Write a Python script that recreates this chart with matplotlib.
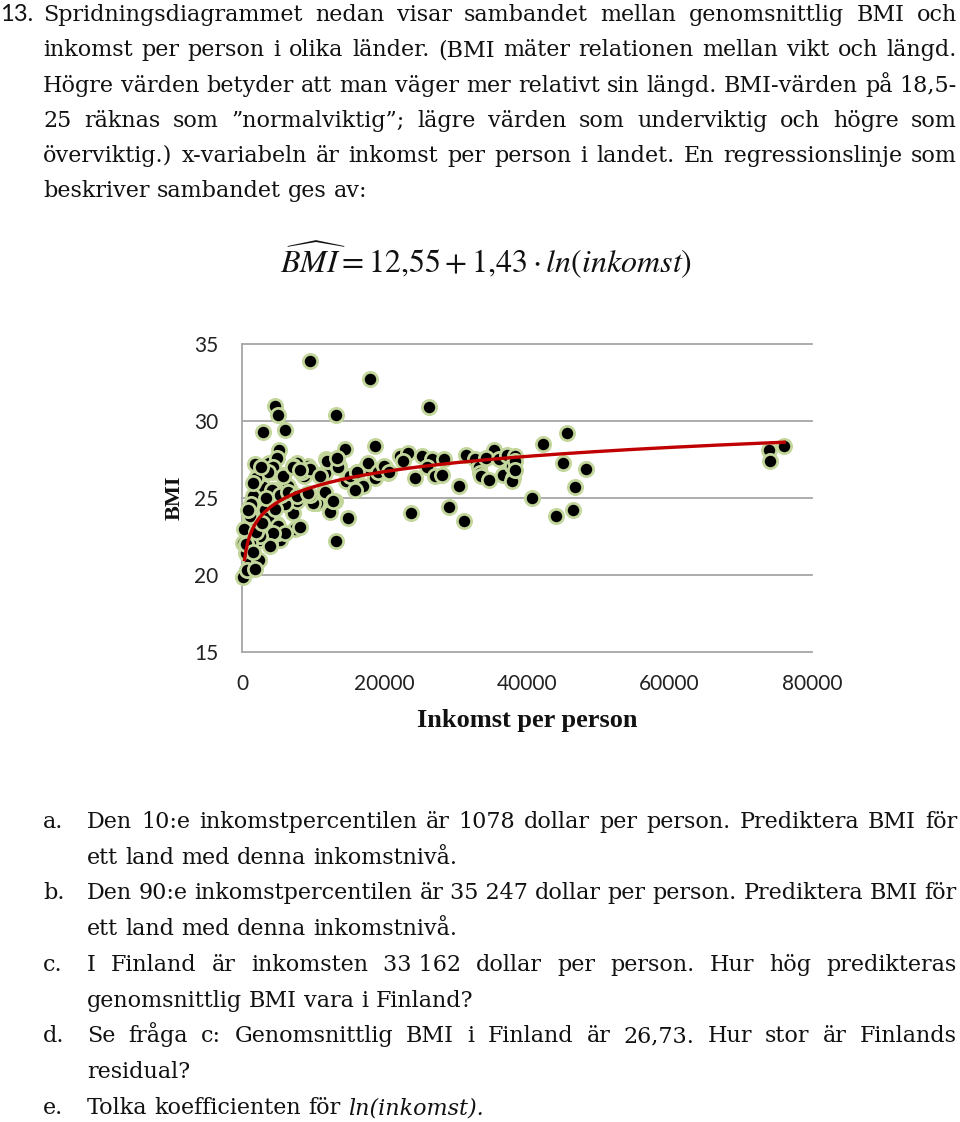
import numpy as np
import matplotlib.pyplot as plt

plt.rcParams['mathtext.fontset'] = 'stix'

# data (income per person, average BMI)
income = [
    9500, 17900, 26300, 4600, 5100, 13200, 6100, 3000, 45600, 5200,
    14500, 18600, 42200, 73900, 74100, 76100, 1800, 45000, 48300, 40700,
    46700, 44100, 46500, 23700, 29000, 31100, 30400, 14900, 13200, 12400,
    13000, 7100, 7500, 24300, 22200, 23300, 22600, 25200, 26600, 28300,
    25900, 27100, 28000, 31500, 32700, 33200, 33400, 33600, 34600, 35300,
    34300, 36000, 36700, 37200, 38300, 37900, 38100, 37900, 20100, 20500,
    18700, 14600, 15200, 16000, 16200, 17000, 17400, 17700, 18700, 19100,
    19900, 20700, 13400, 13600, 11800, 10800, 11500, 11700, 10500, 9900,
    9600, 9300, 8300, 8700, 7700, 7100, 7700, 6800, 6100, 5800,
    6500, 5500, 5300, 5000, 4900, 4600, 3900, 4300, 3400, 3800,
    4900, 3600, 3900, 3000, 2400, 2400, 2700, 2100, 1600, 1100,
    700, 200, 500, 1100, 2400, 500, 100, 4400, 3700, 5800,
    7200, 8400, 9500, 10900, 11900, 13500, 13300, 2300, 3000, 4200,
    5300, 6500, 7700, 9300, 11600, 12800, 1600, 2300, 1800, 3200,
    3700, 5100, 6000, 4400, 3900, 2500, 1100, 700, 1800, 900,
    1100, 300, 600, 1500, 2000, 2800, 1300, 800, 2000, 3300,
    4700, 1500, 2600, 8100, 16100, 15900, 8100, 38300, 38300,
]
bmi = [
    33.9, 32.7, 30.9, 31.0, 30.4, 30.4, 29.4, 29.3, 29.2, 28.1,
    28.2, 28.4, 28.5, 28.1, 27.4, 28.4, 27.2, 27.3, 26.9, 25.0,
    25.7, 23.8, 24.2, 24.0, 24.4, 23.5, 25.8, 23.7, 22.2, 24.1,
    24.8, 24.0, 23.0, 26.3, 27.7, 27.9, 27.4, 27.7, 27.5, 27.5,
    27.0, 26.4, 26.5, 27.8, 27.5, 27.0, 26.6, 26.4, 26.2, 28.1,
    27.6, 27.5, 26.5, 27.8, 27.7, 27.1, 26.3, 26.1, 27.0, 26.6,
    26.4, 26.1, 26.4, 25.6, 26.7, 25.8, 27.0, 27.3, 26.3, 26.7,
    27.1, 26.7, 27.5, 27.1, 27.5, 26.5, 25.4, 26.6, 24.7, 24.7,
    25.2, 27.1, 26.7, 26.4, 27.3, 27.1, 24.8, 25.5, 24.6, 26.5,
    25.8, 25.2, 22.3, 22.7, 23.3, 25.5, 24.9, 26.7, 26.6, 27.3,
    27.6, 23.7, 22.0, 22.9, 22.3, 25.3, 26.0, 24.6, 23.8, 23.6,
    22.7, 22.1, 21.4, 20.8, 21.0, 20.2, 19.9, 27.0, 26.7, 26.4,
    27.0, 26.7, 26.9, 26.4, 27.4, 27.0, 27.6, 25.2, 25.7, 25.5,
    25.2, 25.4, 25.1, 25.3, 25.4, 24.8, 25.1, 24.4, 23.8, 24.2,
    23.7, 23.2, 22.7, 22.7, 21.9, 22.5, 22.1, 20.3, 20.4, 23.1,
    23.8, 23.0, 22.0, 21.5, 22.8, 23.4, 24.6, 24.2, 26.3, 25.0,
    24.3, 26.0, 27.0, 26.8, 26.7, 25.5, 23.1, 27.4, 26.8,
]

y_ticks = [15, 20, 25, 30, 35]
x_ticks = [0, 20000, 40000, 60000, 80000]
intercept = 12.55
slope = 1.43

paragraph = [
    "Spridningsdiagrammet nedan visar sambandet mellan genomsnittlig BMI och",
    "inkomst per person i olika länder. (BMI mäter relationen mellan vikt och längd.",
    "Högre värden betyder att man väger mer relativt sin längd. BMI-värden på 18,5-",
    "25 räknas som ”normalviktig”; lägre värden som underviktig och högre som",
    "överviktig.) x-variabeln är inkomst per person i landet. En regressionslinje som",
    "beskriver sambandet ges av:",
]
questions = [
    ("a.", "Den 10:e inkomstpercentilen är 1078 dollar per person. Prediktera BMI för",
     "ett land med denna inkomstnivå."),
    ("b.", "Den 90:e inkomstpercentilen är 35_247 dollar per person. Prediktera BMI för",
     "ett land med denna inkomstnivå."),
    ("c.", "I Finland är inkomsten 33_162 dollar per person. Hur hög predikteras",
     "genomsnittlig BMI vara i Finland?"),
    ("d.", "Se fråga c: Genomsnittlig BMI i Finland är 26,73. Hur stor är Finlands",
     "residual?"),
]
formula = r'$\widehat{BMI} = 12{,}55 + 1{,}43 \cdot ln(inkomst)$'

W, H = 960, 1122
fig = plt.figure(figsize=(W / 100, H / 100), dpi=100)
page = fig.add_axes([0, 0, 1, 1])
page.set_xlim(0, W)
page.set_ylim(H, 0)
page.axis('off')
rend = fig.canvas.get_renderer()

body = dict(family='DejaVu Serif', size=16, color='#111111')


def width(t):
    return t.get_window_extent(rend).width


probe1 = page.text(0, -100, 'a a', **body)
probe2 = page.text(0, -100, 'aa', **body)
space = width(probe1) - width(probe2)
probe1.remove()
probe2.remove()


def put_line(y, parts, x0, x1=None):
    texts = [page.text(0, y, w.replace('_', ' '), va='baseline', ha='left', **{**body, **st})
             for w, st in parts]
    ws = [width(t) for t in texts]
    if x1 is None or len(texts) < 2:
        gap = space
    else:
        gap = (x1 - x0 - sum(ws)) / (len(texts) - 1)
    x = x0
    for t, w in zip(texts, ws):
        t.set_x(x)
        x += w + gap


def words(s):
    return [(w, {}) for w in s.split(' ')]


right = 957
base = [21, 56, 91.5, 126.5, 162, 197]
page.text(0, base[0], '13.', va='baseline', ha='left', family='Lato', size=17,
          color='#111111')
for i, (y, s) in enumerate(zip(base, paragraph)):
    put_line(y, words(s), 43, right if i < len(paragraph) - 1 else None)

page.text(486, 273, formula, ha='center', va='baseline', fontsize=23, color='#111111')

qy = [828, 899, 971, 1042]
for (lab, first, second), y in zip(questions, qy):
    page.text(43, y, lab, va='baseline', ha='left', **body)
    put_line(y, words(first), 87, right)
    put_line(y + 35.5, words(second), 87)
page.text(43, 1114, 'e.', va='baseline', ha='left', **body)
put_line(1114, words('Tolka koefficienten för') + [('ln(inkomst).', {'style': 'italic'})], 87)

# scatter chart
ax = fig.add_axes([242 / W, 1 - 652 / H, 570 / W, 308 / H])
ax.set_facecolor('none')
ax.set_xlim(0, 80000)
ax.set_ylim(15, 35)
for v in y_ticks:
    ax.axhline(v, color='#a6a6a6', lw=1.3, clip_on=False, zorder=1)
for s in ['top', 'right', 'bottom']:
    ax.spines[s].set_visible(False)
ax.spines['left'].set_color('#a6a6a6')
ax.spines['left'].set_linewidth(1.3)
ax.set_xticks(x_ticks, [str(v) for v in x_ticks])
ax.set_yticks(y_ticks, [str(v) for v in y_ticks])
ax.tick_params(axis='y', length=0, pad=17)
ax.tick_params(axis='x', length=0, pad=16)
for lbl in ax.get_xticklabels() + ax.get_yticklabels():
    lbl.set_family('Lato')
    lbl.set_fontsize(15)
    lbl.set_color('#222222')

ax.scatter(income, bmi, s=105, c='black', edgecolors='#c3d69b', linewidths=2,
           zorder=3, clip_on=False)
xs = np.linspace(370, 76100, 400)
ax.plot(xs, intercept + slope * np.log(xs), color='#c00000', lw=2.4, zorder=4)

page.text(175, 498, 'BMI', rotation=90, ha='center', va='center',
          family='Liberation Serif', weight='bold', size=16, color='#111111')
page.text(527, 720, 'Inkomst per person', ha='center', va='center',
          family='Liberation Serif', weight='bold', size=19, color='#111111')

fig.savefig('out.png', dpi=100)
